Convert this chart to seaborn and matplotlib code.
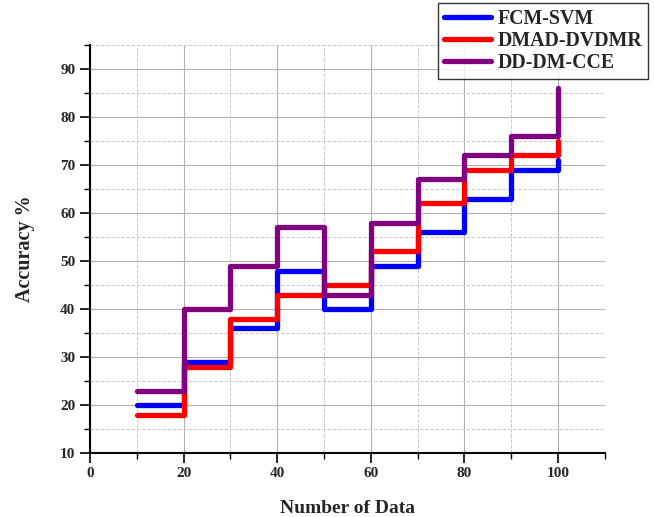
import pandas as pd
import seaborn as sns
import matplotlib.pyplot as plt
from matplotlib.ticker import MultipleLocator

num_data = [10, 20, 30, 40, 50, 60, 70, 80, 90, 100]
fcm_svm = [20, 29, 36, 48, 40, 49, 56, 63, 69, 71]
dmad_dvdmr = [18, 28, 38, 43, 45, 52, 62, 69, 72, 75]
dd_dm_cce = [23, 40, 49, 57, 43, 58, 67, 72, 76, 86]
methods = ["FCM-SVM", "DMAD-DVDMR", "DD-DM-CCE"]
colors = ["#0000ff", "#ff0000", "#800080"]

df = pd.DataFrame({
    "Number of Data": num_data * 3,
    "Accuracy": fcm_svm + dmad_dvdmr + dd_dm_cce,
    "Method": [m for m in methods for _ in num_data],
})

sns.set_style("white")
plt.rcParams["font.family"] = ["Liberation Serif", "DejaVu Serif"]
plt.rcParams["font.weight"] = "bold"

fig = plt.figure(figsize=(6.54, 5.17), dpi=100)
ax = fig.add_axes([0.1376, 0.124, 0.787, 0.789])

sns.lineplot(data=df, x="Number of Data", y="Accuracy", hue="Method",
             palette=colors, hue_order=methods, drawstyle="steps-post",
             linewidth=3.8, ax=ax, legend=True,
             solid_joinstyle="round", solid_capstyle="round")

ax.set_xlim(0, 110)
ax.set_ylim(10, 95)
ax.xaxis.set_major_locator(MultipleLocator(20))
ax.xaxis.set_minor_locator(MultipleLocator(10))
ax.yaxis.set_major_locator(MultipleLocator(10))
ax.yaxis.set_minor_locator(MultipleLocator(5))
ax.set_xticks(range(0, 101, 20))
ax.grid(which="major", color="#b0b0b0", linestyle="-", linewidth=0.8)
ax.grid(which="minor", color="#c8c8c8", linestyle="--", linewidth=0.7)
ax.set_axisbelow(True)

for side in ["top", "right"]:
    ax.spines[side].set_visible(False)
for side in ["left", "bottom"]:
    ax.spines[side].set_color("black")
    ax.spines[side].set_linewidth(1.5)

ax.tick_params(which="major", direction="out", length=7, width=1.2,
               color="black", labelsize=11, left=True, bottom=True)
ax.tick_params(which="minor", direction="out", length=4, width=1.0,
               color="black", left=True, bottom=True)
for lbl in ax.get_xticklabels() + ax.get_yticklabels():
    lbl.set_fontweight("bold")

ax.set_xlabel("Number of Data", fontsize=14, fontweight="bold", labelpad=14)
ax.set_ylabel("Accuracy %", fontsize=14.5, fontweight="bold", labelpad=18)

handles, labels = ax.get_legend_handles_labels()
leg = ax.legend(handles, labels, loc="upper right", bbox_to_anchor=(0.991, 0.994),
                bbox_transform=fig.transFigure, fancybox=False, frameon=True,
                edgecolor="black", prop={"weight": "bold", "size": 14.3},
                handlelength=2.4, borderpad=0.3, labelspacing=0.1,
                handletextpad=0.3, borderaxespad=0)
leg.get_frame().set_linewidth(1.0)
for line in leg.get_lines():
    line.set_linewidth(3.8)

fig.savefig("out.png", dpi=100)
